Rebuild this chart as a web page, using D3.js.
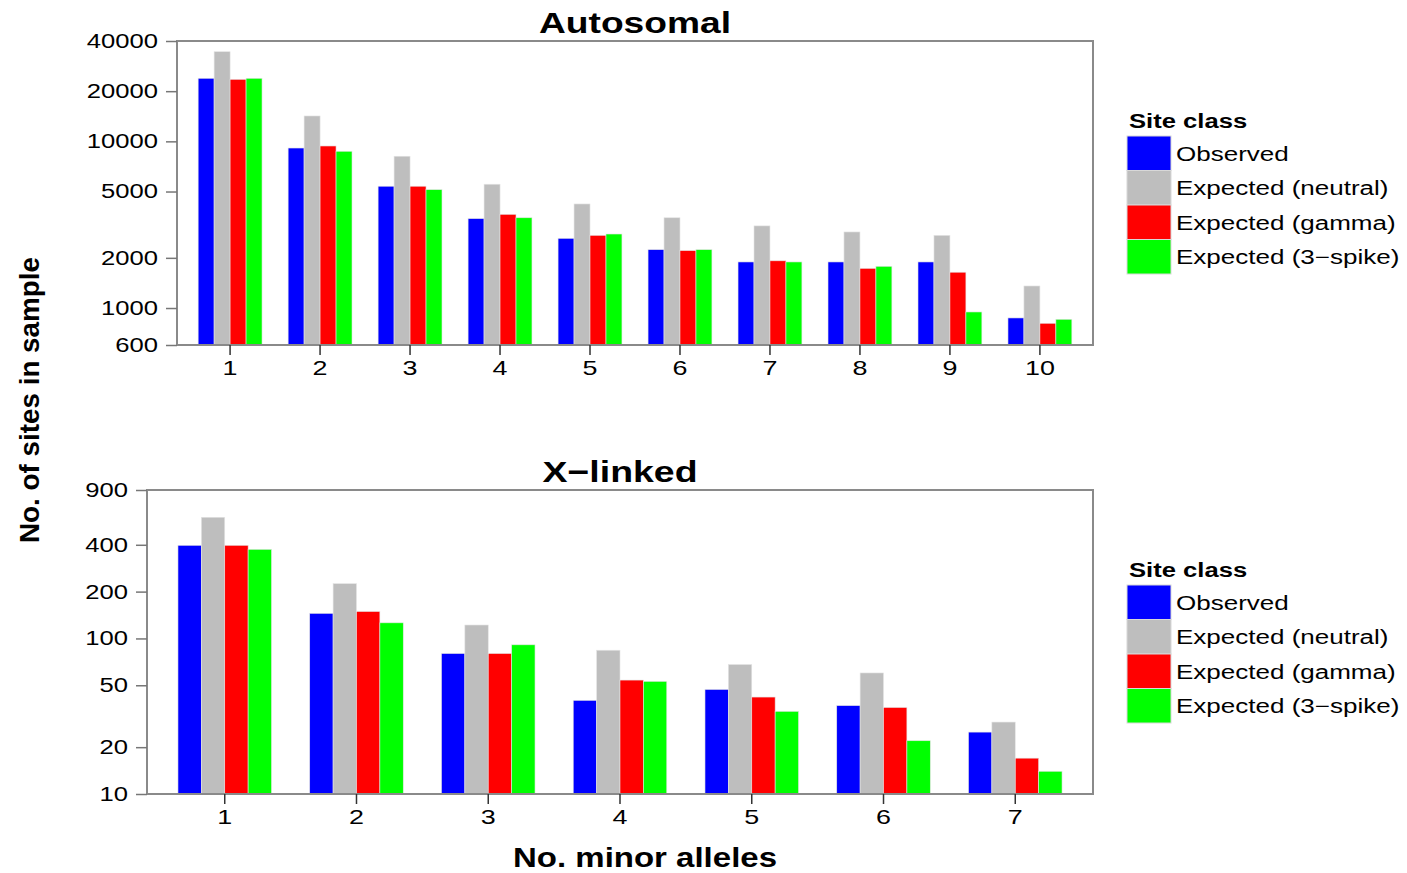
<!DOCTYPE html>
<html>
<head>
<meta charset="utf-8">
<script src="https://cdn.jsdelivr.net/npm/d3@7"></script>
<style>
  html, body { margin: 0; padding: 0; background: #fff; }
  svg text { font-family: "Liberation Sans", Arial, sans-serif; fill: #000; }
</style>
</head>
<body>
<svg id="chart" width="1407" height="873"></svg>
<script>
// Site frequency spectra: observed vs. expected counts per number of minor alleles
const seriesNames = ["Observed", "Expected (neutral)", "Expected (gamma)", "Expected (3\u2212spike)"];
const seriesColors = ["#0000FF", "#BEBEBE", "#FF0000", "#00FF00"];

// Autosomal panel
const autoCategories = ["1", "2", "3", "4", "5", "6", "7", "8", "9", "10"];
const autoObserved = [23900, 9120, 5380, 3440, 2620, 2240, 1890, 1890, 1890, 872];
const autoNeutral  = [34500, 14200, 8140, 5530, 4210, 3480, 3110, 2860, 2730, 1356];
const autoGamma    = [23560, 9380, 5380, 3650, 2730, 2210, 1920, 1730, 1640, 810];
const autoSpike    = [23900, 8720, 5130, 3480, 2780, 2240, 1890, 1780, 947, 856];
const autoTicks    = [600, 1000, 2000, 5000, 10000, 20000, 40000];

// X-linked panel
const xCategories = ["1", "2", "3", "4", "5", "6", "7"];
const xObserved = [397, 145, 80, 40, 47, 37, 25];
const xNeutral  = [601, 225, 122, 84, 68, 60, 29];
const xGamma    = [397, 149, 80, 54, 42, 36, 17];
const xSpike    = [374, 126, 91, 53, 34, 22, 14];
const xTicks    = [10, 20, 50, 100, 200, 400, 900];

const svg = d3.select("#chart");

// Widen glyphs horizontally by a factor
function stretch(sel, f) {
  sel.each(function () {
    const w = this.getComputedTextLength();
    this.setAttribute("textLength", w * f);
    this.setAttribute("lengthAdjust", "spacingAndGlyphs");
  });
}

function drawPanel(p) {
  const g = svg.append("g");
  const x0 = d3.scaleBand().domain(p.categories).range([p.left, p.right])
    .paddingInner(0.29).paddingOuter(0.235);
  const x1 = d3.scaleBand().domain(d3.range(seriesNames.length)).range([0, x0.bandwidth()]);
  const y = d3.scaleLog().domain(p.domain).range([p.bottom, p.top]);

  const rows = p.categories.map((c, i) => ({ cat: c, vals: p.series.map(s => s[i]) }));

  const grp = g.selectAll("g.grp").data(rows).join("g")
    .attr("transform", d => `translate(${x0(d.cat)},0)`);
  grp.selectAll("rect").data(d => d.vals.map((v, k) => ({ v, k }))).join("rect")
    .attr("x", d => x1(d.k))
    .attr("width", x1.bandwidth())
    .attr("y", d => y(d.v))
    .attr("height", d => p.bottom - y(d.v))
    .attr("fill", d => seriesColors[d.k])
    .attr("stroke", "#e4e4e4")
    .attr("stroke-width", 0.6);

  // frame
  g.append("rect")
    .attr("x", p.left).attr("y", p.top)
    .attr("width", p.right - p.left).attr("height", p.bottom - p.top)
    .attr("fill", "none").attr("stroke", "#8a8a8a").attr("stroke-width", 2);

  // y axis
  const ya = g.append("g").attr("transform", `translate(${p.left},0)`)
    .call(d3.axisLeft(y).tickValues(p.ticks).tickFormat(d3.format("d")).tickSize(11).tickPadding(8));
  ya.select(".domain").remove();
  ya.selectAll(".tick line").attr("stroke", "#777").attr("stroke-width", 1.5);
  ya.selectAll(".tick text").attr("font-size", 20).attr("fill", "#000")
    .style("font-family", "'Liberation Sans', Arial, sans-serif");
  stretch(ya.selectAll(".tick text"), 1.28);

  // x axis
  const xa = g.append("g").attr("transform", `translate(0,${p.bottom})`)
    .call(d3.axisBottom(x0).tickSize(10).tickPadding(5));
  xa.select(".domain").remove();
  xa.selectAll(".tick line").attr("stroke", "#333").attr("stroke-width", 1.5);
  xa.selectAll(".tick text").attr("font-size", 21).attr("fill", "#000")
    .style("font-family", "'Liberation Sans', Arial, sans-serif");
  stretch(xa.selectAll(".tick text"), 1.28);

  // title
  const t = g.append("text")
    .attr("x", (p.left + p.right) / 2).attr("y", p.top - 8)
    .attr("text-anchor", "middle").attr("font-size", 30).attr("font-weight", "bold")
    .text(p.title);
  t.attr("textLength", p.titleWidth).attr("lengthAdjust", "spacingAndGlyphs");

  // legend
  const lg = g.append("g").attr("transform", `translate(1127,${p.top + 87})`);
  const lt = lg.append("text").attr("x", 2).attr("y", 0)
    .attr("font-size", 20).attr("font-weight", "bold").text("Site class");
  stretch(lt, 1.28);
  const sh = 34.5;
  const items = lg.selectAll("g.item").data(seriesNames).join("g")
    .attr("transform", (d, i) => `translate(0,${8 + i * sh})`);
  items.append("rect").attr("width", 44).attr("height", sh)
    .attr("fill", (d, i) => seriesColors[i])
    .attr("stroke", "#d8d8d8").attr("stroke-width", 1);
  const it = items.append("text").attr("x", 49).attr("y", sh / 2 + 7.5)
    .attr("font-size", 20).text(d => d);
  stretch(it, 1.30);
}

drawPanel({
  title: "Autosomal", titleWidth: 192,
  categories: autoCategories,
  series: [autoObserved, autoNeutral, autoGamma, autoSpike],
  domain: [600, 40000], ticks: autoTicks,
  left: 177, right: 1093, top: 41, bottom: 345
});

drawPanel({
  title: "X\u2212linked", titleWidth: 155,
  categories: xCategories,
  series: [xObserved, xNeutral, xGamma, xSpike],
  domain: [10, 900], ticks: xTicks,
  left: 147, right: 1093, top: 490, bottom: 794
});

// shared axis labels
svg.append("text")
  .attr("x", 645).attr("y", 867)
  .attr("text-anchor", "middle").attr("font-size", 28).attr("font-weight", "bold")
  .attr("textLength", 264).attr("lengthAdjust", "spacingAndGlyphs")
  .text("No. minor alleles");

svg.append("text")
  .attr("transform", "translate(39,400) rotate(-90)")
  .attr("text-anchor", "middle").attr("font-size", 28).attr("font-weight", "bold")
  .attr("textLength", 286).attr("lengthAdjust", "spacingAndGlyphs")
  .text("No. of sites in sample");
</script>
</body>
</html>
